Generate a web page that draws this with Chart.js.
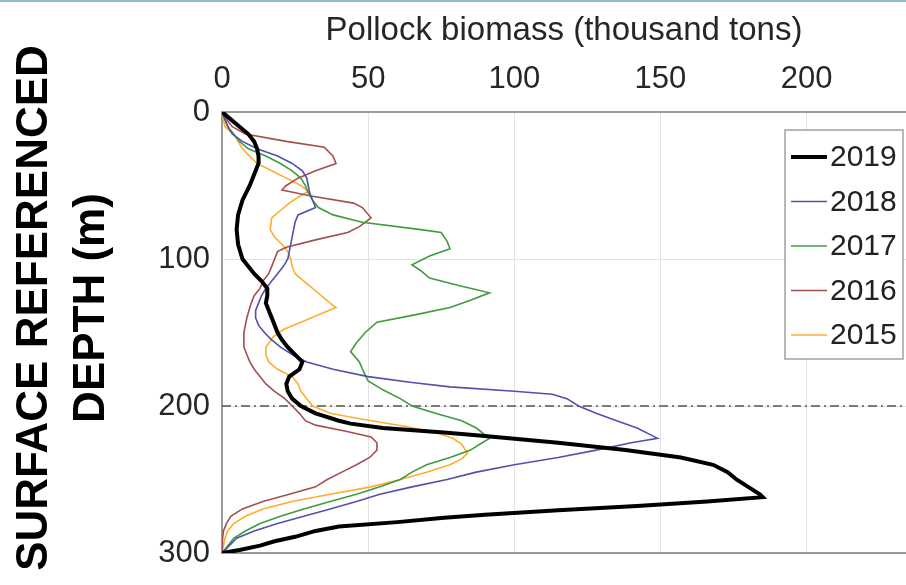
<!DOCTYPE html>
<html>
<head>
<meta charset="utf-8">
<script src="https://cdn.jsdelivr.net/npm/chart.js@4.4.1/dist/chart.umd.min.js"></script>
<style>
  html, body { margin: 0; padding: 0; background: #fff; }
  #wrap { position: relative; width: 906px; height: 585px; }
  #topline { position: absolute; left: 0; top: 0; width: 906px; height: 2px; background: #8dbdc7; }
</style>
</head>
<body>
<div id="wrap">
  <canvas id="depth" width="906" height="585"></canvas>
  <div id="topline"></div>
</div>
<script>
// depth profiles (depth in m, biomass in thousand tons)
const depth2019 = [0,5,10,15,20,25,30,35,40,50,60,70,80,90,100,110,115,120,125,130,135,140,150,155,160,165,170,175,180,185,190,195,200,205,210,212,215,218,220,225,230,235,240,245,250,255,260,262,265,268,271,274,276,279,282,285,289,292,295,298,300]
const bio2019 = [0,3,6,9,11,12,12.5,12.5,11.5,9.5,7,5.5,5,5.5,7,11,13.5,15.5,15.5,15,16,17,19,20.5,22.5,25,27.5,26.5,23,22,22.5,24,27,32,40,44,55,76,88,115,138,157,168,173,176,180,184,185,166,142,115,90,76,60,40,32,25,18,13,6,0]

const depth2018 = [0,5,10,15,20,25,30,35,40,45,50,55,60,65,70,75,80,90,100,105,110,115,120,125,130,135,140,145,150,155,160,165,170,175,180,184,187,190,192,195,200,205,210,215,220,222,225,230,235,240,245,250,255,260,265,270,275,280,285,290,295,300]
const bio2018 = [0,1,2,3.5,7,12,19,24,27.5,29,29.5,30,31,32,26,25,24.5,23.5,22.5,21,19,17,15,13.5,12.5,11.5,11.5,12.5,14.5,17,20,24,29,38,50,65,78,100,113,118,122,128,135,142,147,149,140,128,115,100,87,77,65,54,46,37,28,19,11,5,2.5,0]

const depth2017 = [0,5,10,15,20,25,30,35,40,45,50,55,60,65,70,75,80,82,88,93,98,104,108,113,118,123,128,133,138,143,150,157,163,170,177,183,189,195,200,205,210,215,222,225,230,235,240,245,250,255,260,265,270,275,280,285,290,295,300]
const bio2017 = [0,1,2,4,6,9,15,20,24,27,28.5,29.5,31,33,38,48,68,75,77,78,71,65,68,71,81,91.5,85,78,66,53,49,46,44,47,48.5,50,55,61,65,73,82,87,91.5,89,85,78,70,65,61,54,46,37,28,20,13,8,4,2,0]

const depth2016 = [0,5,10,15,20,24,30,35,40,45,50,53,57,62,65,72,78,82,87,92,95,100,105,110,115,120,125,130,140,150,160,170,175,180,185,190,195,200,205,210,213,217,221,225,230,235,240,245,250,255,260,265,270,275,280,285,290,300]
const bio2016 = [0,1.5,3.5,8,22,35,38,39,32,26,22,20.5,30,45,48,51,47,43,32,22,19,18,17,16,14,13,11,10,8.5,7.5,7.5,9.5,11,13,15,18,21.5,24,26.5,28.5,32,42,51,53,53,50.5,46,41,36,32,23,14,7,3,1.5,0.5,0.2,0]

const depth2015 = [0,5,10,15,20,25,30,35,40,45,50,54,58,62,67,72,80,85,90,95,100,105,110,115,120,125,130,133,138,143,148,153,160,165,170,175,180,185,190,195,200,205,209,214,218,222,226,232,236,240,245,250,255,260,265,270,275,280,285,290,300]
const bio2015 = [0,0.5,1,4,5.5,7,9.5,12,17,22,27,29.5,26,23,20,17,16.5,18,20.5,22.5,23.5,24,25,28,31,34,37,39,33,27,21,17.5,15,15,16,19,24,26,27,29,31,37,48,63,73,79,82,84,82,78,70,61,51,37,24,14,8,4,2,1,0]

const years = ['2019', '2018', '2017', '2016', '2015']
const depths = [depth2019, depth2018, depth2017, depth2016, depth2015]
const biomass = [bio2019, bio2018, bio2017, bio2016, bio2015]
const colors = ['#000000', '#5151ab', '#3f9b3f', '#a34f4f', '#ffad2e']
const widths = [4, 1.6, 1.6, 1.6, 1.6]

const refDepth = 200   // dash-dot reference line
const xMax = 234

const FONT = '"Liberation Sans", Arial, sans-serif'

const profile = (d, v) => d.map((y, i) => ({ x: v[i], y: y }))

const datasets = years.map((yr, i) => ({
  label: yr,
  data: profile(depths[i], biomass[i]),
  borderColor: colors[i],
  borderWidth: widths[i],
  showLine: true,
  pointRadius: 0,
  tension: 0,
}))

datasets.push({
  data: [{ x: 0, y: refDepth }, { x: xMax, y: refDepth }],
  borderColor: '#555',
  borderWidth: 1.5,
  borderDash: [9, 4, 2, 4],
  showLine: true,
  pointRadius: 0,
})

// rotated two-line y title
const sideTitle = {
  id: 'sideTitle',
  afterDraw(chart) {
    const ctx = chart.ctx
    ctx.save()
    ctx.translate(35, 308)
    ctx.rotate(-Math.PI / 2)
    ctx.font = 'bold 44px ' + FONT
    ctx.fillStyle = '#000'
    ctx.textAlign = 'center'
    ctx.textBaseline = 'middle'
    ctx.fillText('SURFACE REFERENCED', 0, 0)
    ctx.fillText('DEPTH (m)', 0, 57)
    ctx.restore()
  }
}

// boxed legend inside the plot, top right
const boxLegend = {
  id: 'boxLegend',
  afterDatasetsDraw(chart) {
    const { ctx, chartArea } = chart
    const items = chart.data.datasets.filter(d => d.label)
    const w = 118, h = 229
    const left = chartArea.right - 3 - w
    const top = chartArea.top + 18
    ctx.save()
    ctx.fillStyle = '#fff'
    ctx.fillRect(left, top, w, h)
    ctx.strokeStyle = '#a0a0a0'
    ctx.lineWidth = 1.5
    ctx.strokeRect(left, top, w, h)
    ctx.font = '30px ' + FONT
    ctx.textBaseline = 'middle'
    ctx.textAlign = 'left'
    items.forEach((d, i) => {
      const y = top + 27 + i * 44.5
      ctx.beginPath()
      ctx.strokeStyle = d.borderColor
      ctx.lineWidth = d.borderWidth
      ctx.moveTo(left + 6, y)
      ctx.lineTo(left + 42, y)
      ctx.stroke()
      ctx.fillStyle = '#222'
      ctx.fillText(d.label, left + 45, y + 1)
    })
    ctx.restore()
  }
}

const config = {
  type: 'scatter',
  data: { datasets: datasets },
  options: {
    responsive: false,
    animation: false,
    layout: { padding: { left: 0, right: 0, top: 0, bottom: 32 } },
    plugins: {
      legend: { display: false },
      tooltip: { enabled: false },
    },
    scales: {
      x: {
        type: 'linear',
        position: 'top',
        min: 0,
        max: xMax,
        ticks: {
          stepSize: 50,
          includeBounds: false,
          padding: 14,
          color: '#262626',
          font: { family: FONT, size: 31 },
        },
        grid: { color: '#e3e3e3', lineWidth: 1, drawTicks: false },
        border: { color: '#9a9a9a', width: 2 },
        title: {
          display: true,
          text: 'Pollock biomass (thousand tons)',
          color: '#262626',
          font: { family: FONT, size: 33 },
          padding: { top: 11, bottom: 0 },
        },
        afterFit: s => { s.height = 112 },
      },
      y: {
        type: 'linear',
        reverse: true,
        min: 0,
        max: 300,
        ticks: {
          stepSize: 100,
          padding: 12,
          color: '#262626',
          font: { family: FONT, size: 31 },
        },
        grid: {
          color: c => (c.tick && c.tick.value === 300 ? '#9a9a9a' : '#e3e3e3'),
          lineWidth: c => (c.tick && c.tick.value === 300 ? 2 : 1),
          drawTicks: false,
        },
        border: { color: '#9a9a9a', width: 2 },
        afterFit: s => { s.width = 222 },
      },
    },
  },
  plugins: [sideTitle, boxLegend],
}

const depthCtx = document.getElementById('depth')
window.depthChart = new Chart(depthCtx, config)
</script>
</body>
</html>
